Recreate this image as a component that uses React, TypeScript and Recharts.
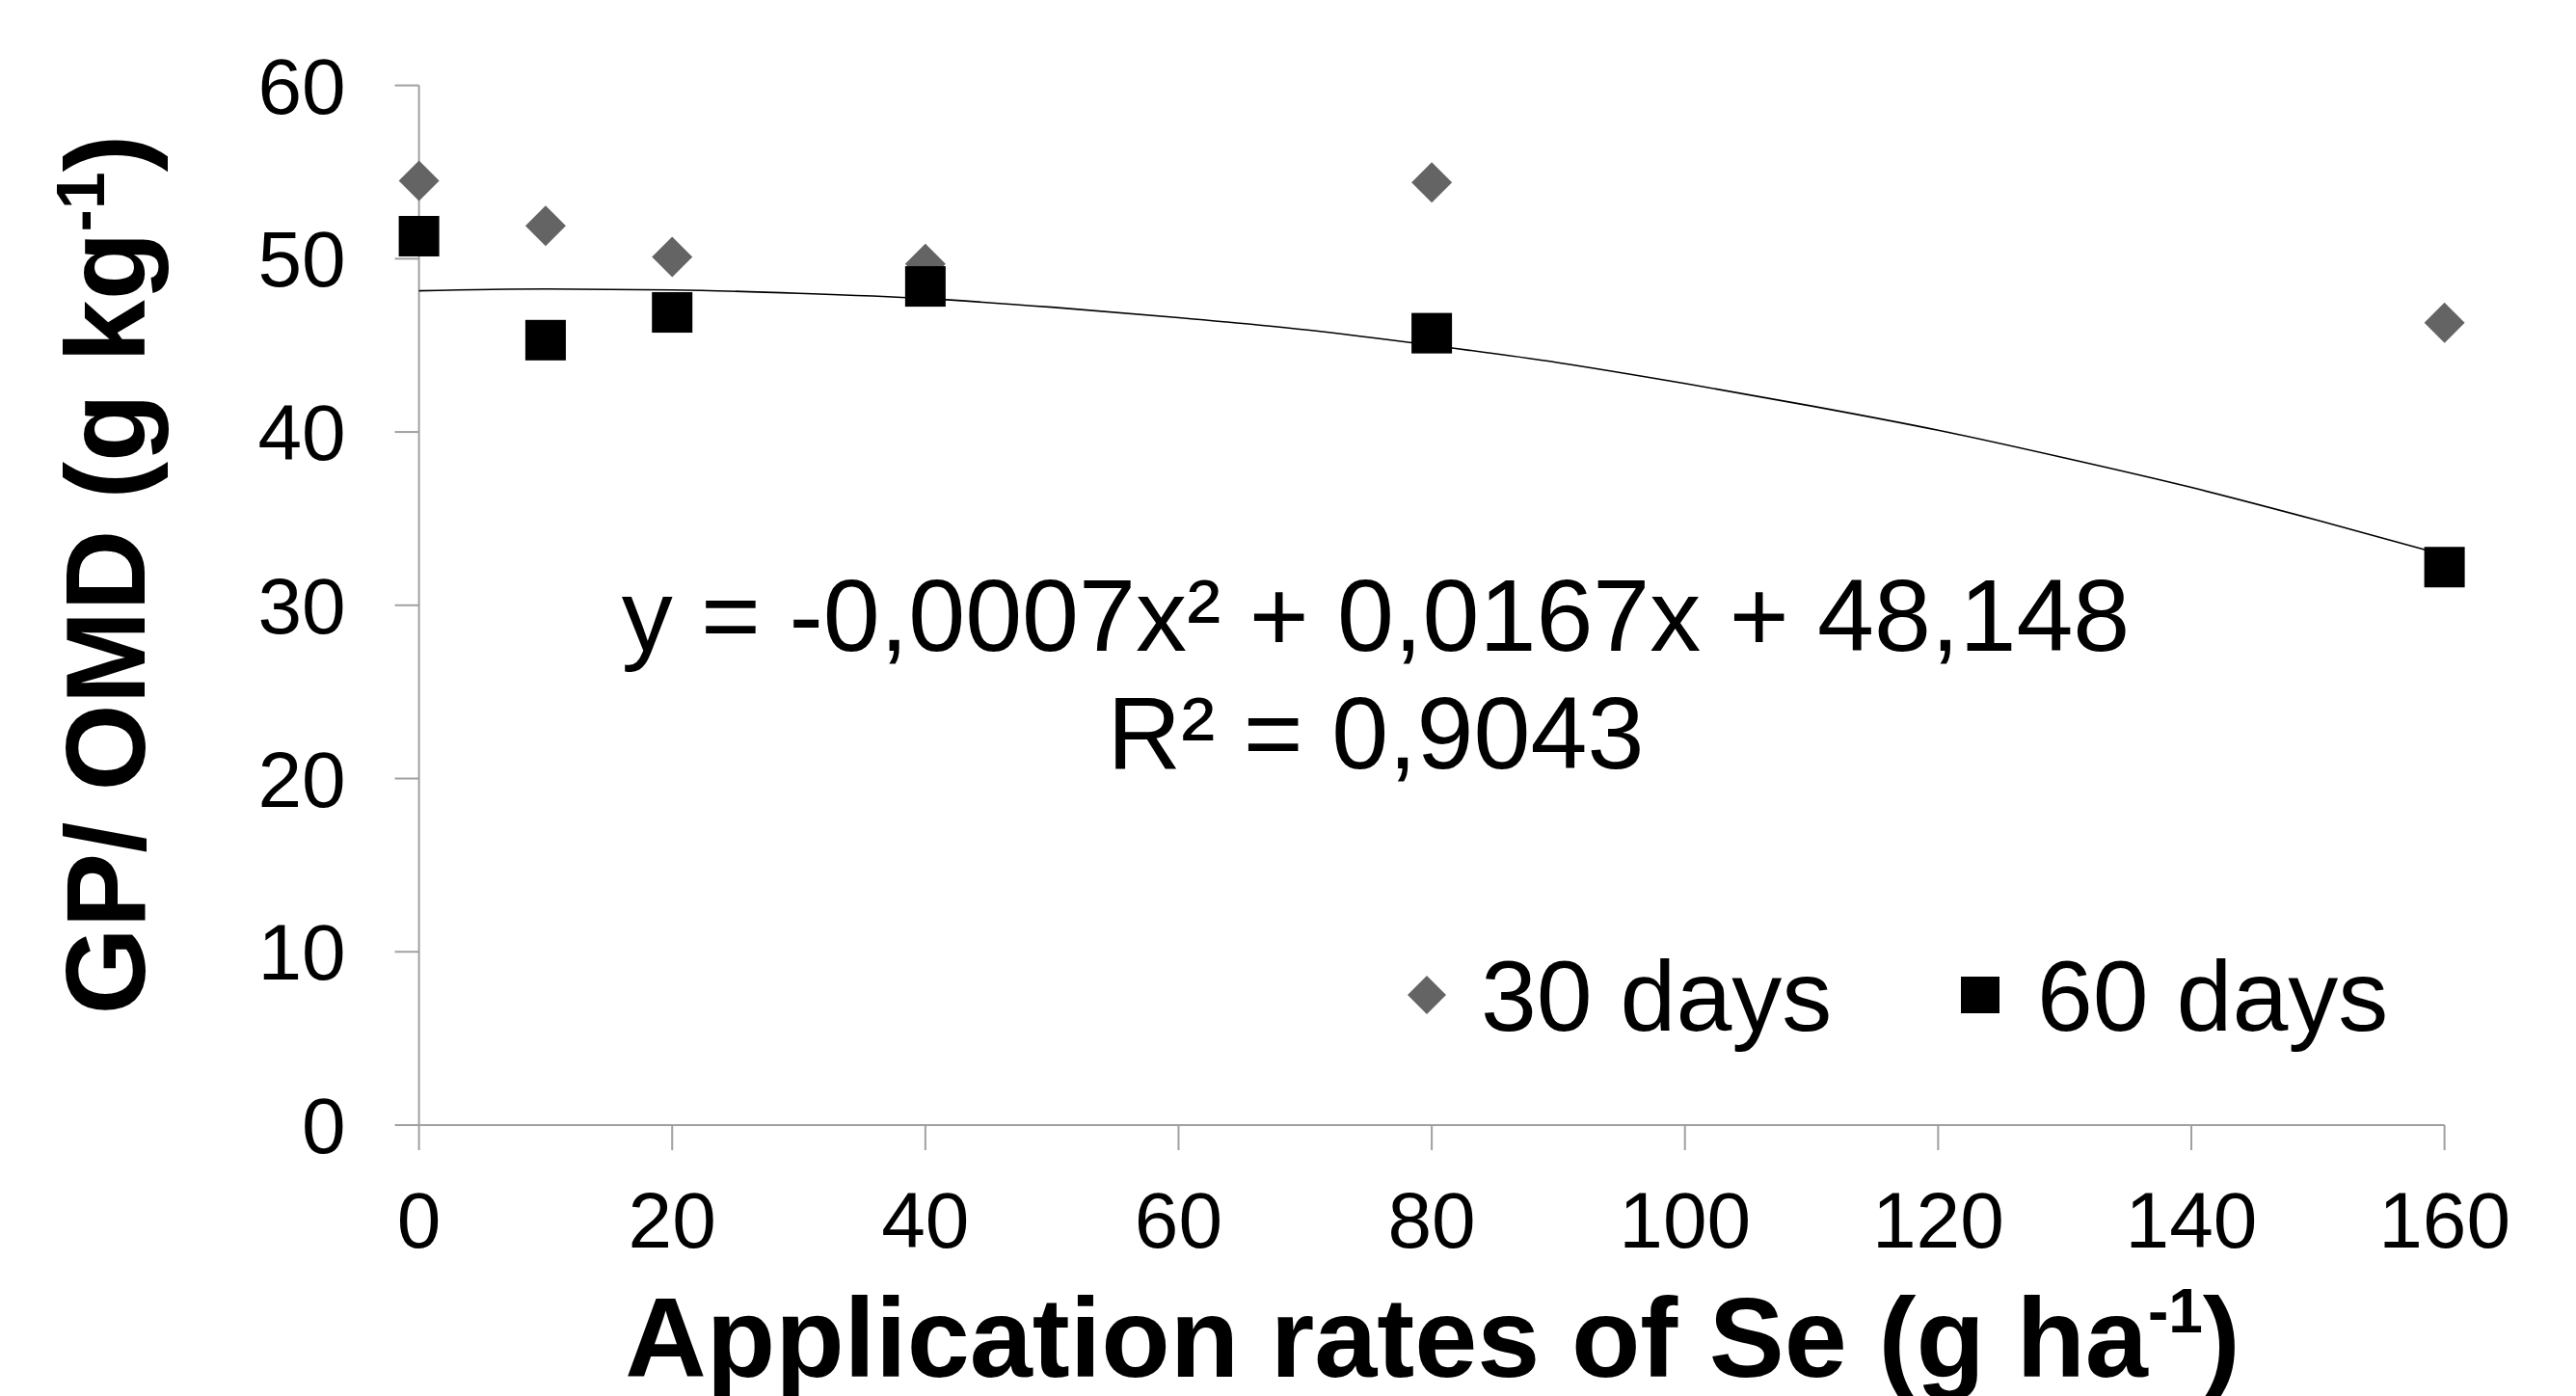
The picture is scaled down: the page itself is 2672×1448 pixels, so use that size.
import React from "react";
import { ScatterChart, Scatter, XAxis, YAxis } from "recharts";

// Application rates of Se (g/ha)
const rates = [0, 10, 20, 40, 80, 160];
// GP/OMD values
const days30 = [54.5, 51.9, 50.1, 49.7, 54.4, 46.3];
const days60 = [51.3, 45.3, 46.9, 48.4, 45.7, 32.2];
// polynomial trendline of the 60 days series
const trendX = [0, 10, 20, 30, 40, 50, 60, 70, 80, 90, 100, 110, 120, 130, 140, 150, 160];
const trendY = [48.15, 48.25, 48.2, 48.0, 47.7, 47.2, 46.6, 45.9, 45.0, 44.0, 42.8, 41.5, 40.1, 38.5, 36.8, 34.9, 32.9];

const xTicks = [0, 20, 40, 60, 80, 100, 120, 140, 160];
const yTicks = [0, 10, 20, 30, 40, 50, 60];
const seriesNames = ["30 days", "60 days"];

const FONT = "'Liberation Sans', Arial, Helvetica, sans-serif";
const AXIS_GREY = "#a0a0a0";

const points30 = rates.map((x, i) => ({ x, y: days30[i] }));
const points60 = rates.map((x, i) => ({ x, y: days60[i] }));
const trend = trendX.map((x, i) => ({ x, y: trendY[i] }));

function Diamond(props: any) {
  const { cx, cy } = props;
  const r = 21;
  return (
    <polygon
      points={`${cx},${cy - r} ${cx + r},${cy} ${cx},${cy + r} ${cx - r},${cy}`}
      fill="#646464"
    />
  );
}

function Square(props: any) {
  const { cx, cy } = props;
  return <rect x={cx - 21} y={cy - 21} width={42} height={42} fill="#000" />;
}

function NoShape() {
  return <g />;
}

export default function App() {
  const tickStyle = { fill: "#000", fontSize: 82, fontFamily: FONT };
  const lineStyle = { stroke: AXIS_GREY, strokeWidth: 2 };

  return (
    <div style={{ position: "relative", width: 2672, height: 1448, background: "#fff" }}>
      <style>{`body{margin:0;background:#fff}`}</style>
      <ScatterChart
        width={2672}
        height={1448}
        margin={{ top: 88.6, right: 136.4, left: 0, bottom: 0 }}
      >
        <XAxis
          type="number"
          dataKey="x"
          domain={[0, 160]}
          ticks={xTicks}
          interval={0}
          height={281}
          tickSize={26}
          tickMargin={43}
          axisLine={lineStyle}
          tickLine={lineStyle}
          tick={tickStyle}
        />
        <YAxis
          type="number"
          dataKey="y"
          domain={[0, 60]}
          ticks={yTicks}
          interval={0}
          width={434.6}
          tickSize={25}
          tickMargin={51}
          axisLine={lineStyle}
          tickLine={lineStyle}
          tick={tickStyle}
        />
        <Scatter
          data={trend}
          line={{ stroke: "#000", strokeWidth: 1.6 }}
          lineJointType="monotoneX"
          shape={NoShape}
          isAnimationActive={false}
        />
        <Scatter name={seriesNames[0]} data={points30} shape={Diamond} isAnimationActive={false} />
        <Scatter name={seriesNames[1]} data={points60} shape={Square} isAnimationActive={false} />
      </ScatterChart>

      <svg
        width={2672}
        height={1448}
        style={{ position: "absolute", left: 0, top: 0, pointerEvents: "none" }}
        fontFamily={FONT}
      >
        {/* regression equation */}
        <text x={1427} y={675} fontSize={106} textAnchor="middle" fill="#000">
          y = -0,0007x² + 0,0167x + 48,148
        </text>
        <text x={1427} y={797} fontSize={106} textAnchor="middle" fill="#000">
          R² = 0,9043
        </text>

        {/* legend */}
        <polygon points="1480,1012 1500,1032 1480,1052 1460,1032" fill="#646464" />
        <text x={1536} y={1069} fontSize={104} fill="#000">
          {seriesNames[0]}
        </text>
        <rect x={2034} y={1013} width={40} height={38} fill="#000" />
        <text x={2113} y={1069} fontSize={104} fill="#000">
          {seriesNames[1]}
        </text>

        {/* x axis title */}
        <text x={1486} y={1428} fontSize={117} fontWeight="bold" textAnchor="middle" fill="#000">
          Application rates of Se (g ha
          <tspan fontSize={64} dy={-46}>-1</tspan>
          <tspan dy={46}>)</tspan>
        </text>

        {/* y axis title */}
        <text
          transform="translate(150,596) rotate(-90)"
          fontSize={116}
          fontWeight="bold"
          textAnchor="middle"
          fill="#000"
        >
          GP/ OMD (g kg
          <tspan fontSize={70} dy={-42}>-1</tspan>
          <tspan dy={42}>)</tspan>
        </text>
      </svg>
    </div>
  );
}
